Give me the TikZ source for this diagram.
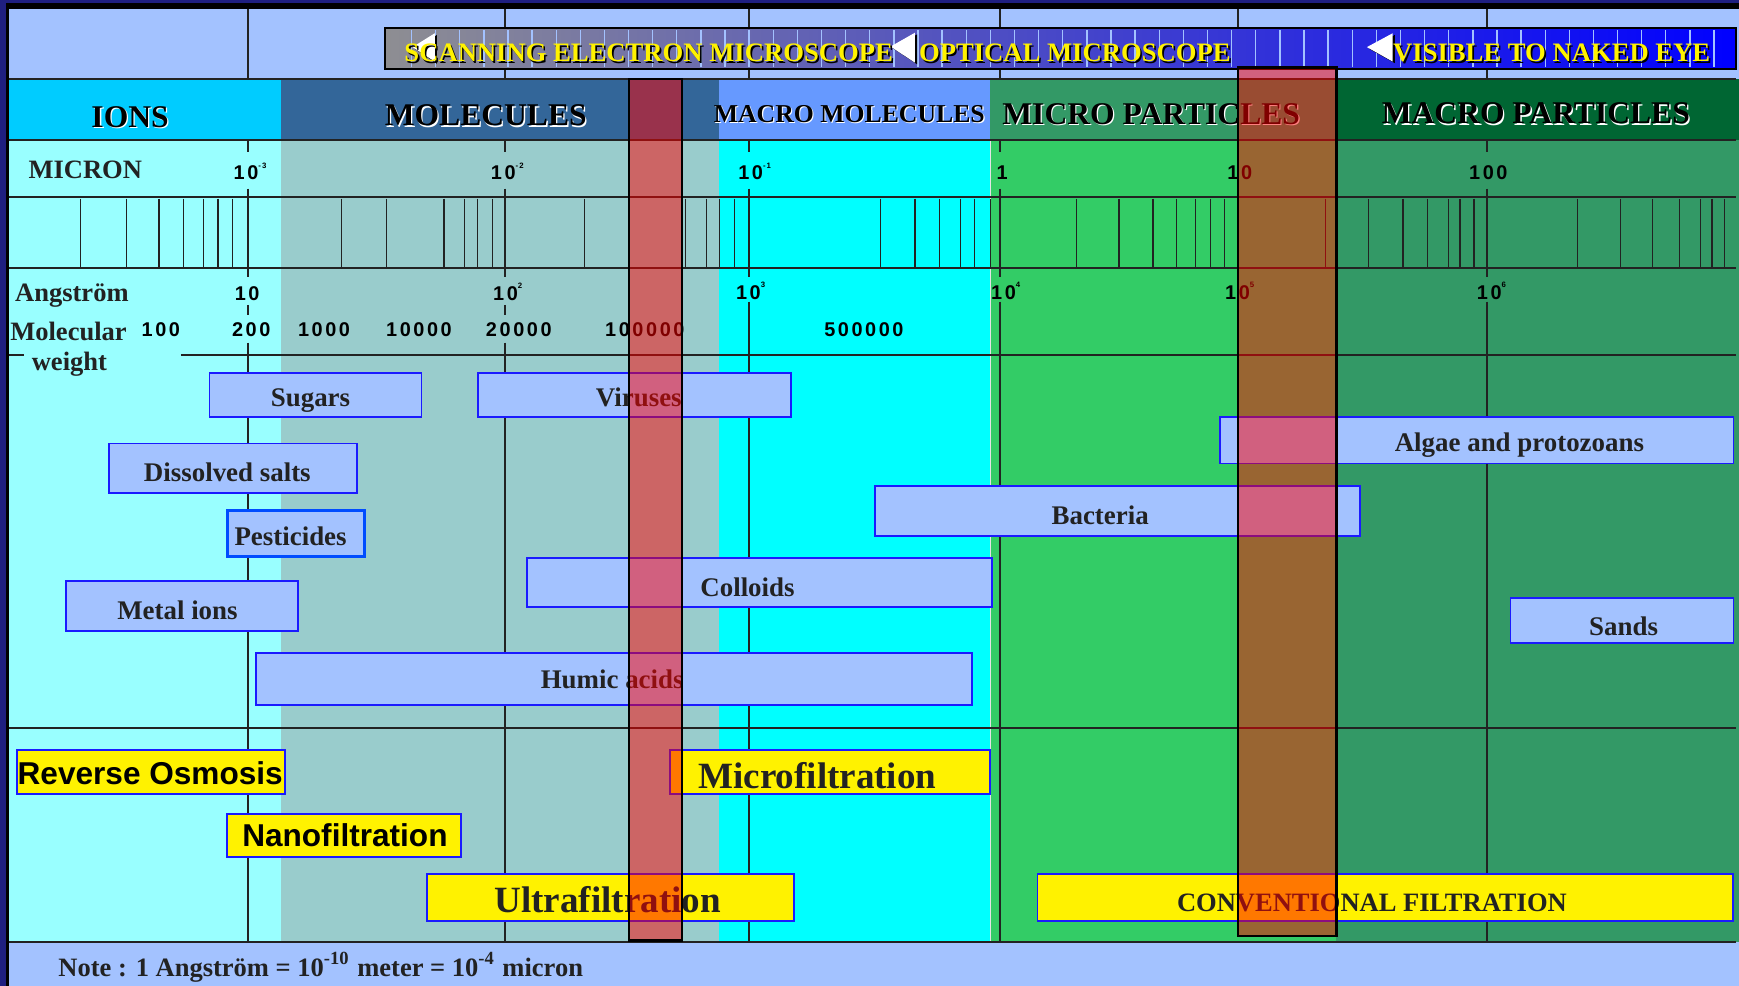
\documentclass[tikz,border=0pt]{standalone}
\usepackage{fontspec}
\setmainfont{Liberation Serif}
\setsansfont{Liberation Sans}
\newfontfamily\numfont[LetterSpace=13.0]{Liberation Sans}
\usepackage{tikz}

\definecolor{framenavy}{HTML}{1F1F80}
\definecolor{paleblue}{HTML}{A3C2FF}
\definecolor{ionhead}{HTML}{00CCFF}
\definecolor{molhead}{HTML}{336699}
\definecolor{macromolhead}{HTML}{6699FF}
\definecolor{microhead}{HTML}{339966}
\definecolor{macrohead}{HTML}{006633}
\definecolor{ioncol}{HTML}{99FFFF}
\definecolor{molcol}{HTML}{99CCCC}
\definecolor{macromolcol}{HTML}{00FFFF}
\definecolor{microcol}{HTML}{33CC66}
\definecolor{macrocol}{HTML}{339966}
\definecolor{edgeblue}{HTML}{1A1AFF}
\definecolor{inkgray}{HTML}{222222}
\definecolor{barleft}{HTML}{8E8E92}
\definecolor{barright}{HTML}{0000FF}

\newcommand{\expsup}[1]{\raisebox{3pt}{\fontsize{2pt}{2.4pt}\selectfont #1}}

\begin{document}
\begin{tikzpicture}[x=0.01cm, y=-0.01cm,
  rowline/.style={draw=inkgray, line width=0.5pt},
  scaletick/.style={draw=inkgray, line width=0.35pt},
  barstripe/.style={draw=paleblue, line width=0.35pt},
  bartext/.style={anchor=base west, inner sep=0pt, text=yellow, font=\bfseries\fontsize{6.83pt}{7pt}\selectfont},
  barshadow/.style={bartext, text=black},
  headtext/.style={anchor=base, inner sep=0pt, text=black, font=\bfseries\fontsize{8.1pt}{9pt}\selectfont},
  headshadow/.style={headtext, text=white},
  sidelabel/.style={anchor=base west, inner sep=0pt, text=inkgray, font=\bfseries\fontsize{6.8pt}{7pt}\selectfont},
  numlabel/.style={anchor=base west, inner sep=0pt, text=black, font=\numfont\bfseries\fontsize{5.1pt}{6pt}\selectfont},
  itembox/.style={fill=paleblue, draw=edgeblue, line width=0.45pt},
  itemtext/.style={anchor=base, inner sep=0pt, text=inkgray, font=\bfseries\fontsize{6.9pt}{7pt}\selectfont},
  filterbox/.style={fill=yellow, draw=edgeblue, line width=0.45pt},
  sanstext/.style={anchor=base, inner sep=0pt, text=black, font=\sffamily\bfseries\fontsize{8.1pt}{9pt}\selectfont},
  serifbig/.style={anchor=base, inner sep=0pt, text=inkgray, font=\bfseries\fontsize{9.5pt}{10pt}\selectfont},
  redband/.style={fill=red, opacity=0.5}]
  \useasboundingbox (0,0) rectangle (1568,889);

  % Frame and bands
  \fill[framenavy] (0,0) rectangle (1568,889);
  \fill[black] (5,3) rectangle (1568,889);
  \fill[paleblue] (8,8) rectangle (1568,71);
  \fill[paleblue] (8,849) rectangle (1568,889);

  % Header cells
  \fill[ionhead] (8,71) rectangle (253,126);
  \fill[molhead] (253,71) rectangle (648,126);
  \fill[macromolhead] (648,71) rectangle (893,126);
  \fill[microhead] (893,71) rectangle (1205,126);
  \fill[macrohead] (1205,71) rectangle (1568,126);

  % Column backgrounds
  \fill[ioncol] (8,126) rectangle (253,849);
  \fill[molcol] (253,126) rectangle (648,849);
  \fill[macromolcol] (648,126) rectangle (893,849);
  \fill[microcol] (893,126) rectangle (1205,849);
  \fill[macrocol] (1205,126) rectangle (1568,849);
  \draw[white!80!gray, line width=0.4pt] (893,126) -- (893,849);

  % Row lines
  \foreach \ry in {71,126,178,242,656,849}
    \draw[rowline] (8,\ry) -- (1565,\ry);
  \draw[rowline] (8,320) -- (22,320);
  \draw[rowline] (163,320) -- (1565,320);

  % Decade lines
  \foreach \dx in {224,455,675,902,1116,1341} {
    \draw[rowline] (\dx,8) -- (\dx,71);
    \draw[rowline] (\dx,126) -- (\dx,137);
    \draw[rowline] (\dx,170) -- (\dx,250);
  }
  \foreach \dx in {675,902,1341}
    \draw[rowline] (\dx,272) -- (\dx,849);
  \foreach \dx in {224,455} {
    \draw[rowline] (\dx,275) -- (\dx,284);
    \draw[rowline] (\dx,309) -- (\dx,849);
  }

  % Scale ticks
  \foreach \tx in {72.5,114,143.5,165.6,183.6,196.7,209.5,308,348.5,400.3,418.6,430.7,444,
                   527,618,637,649,662,794,825,847,866,878.5,893,970.6,1009,1039.6,1061,1078,
                   1091.3,1104,1195,1234,1265,1287,1306,1316.4,1329,1422.6,1461,1490,1514.5,
                   1533,1543.5,1555}
    \draw[scaletick] (\tx,179) -- (\tx,241);

  % Microscope bar
  \shade[left color=barleft, right color=barright] (347,25) rectangle (1565,62);
  \foreach \bx in {0,...,54}
    \draw[barstripe] ({371+21.75*\bx},27) -- ({371+21.75*\bx},60);
  \draw[line width=0.6pt] (347,25) rectangle (1565,62);
  \fill[black] (374,44) -- (394,31.5) -- (394,57.5) -- cycle;
  \fill[white] (372,42.5) -- (392,30) -- (392,55.5) -- cycle;
  \fill[black] (805,43.5) -- (827,31) -- (827,58) -- cycle;
  \fill[white] (803,42) -- (825,29.5) -- (825,56.5) -- cycle;
  \fill[black] (1234.5,44) -- (1257.7,31.5) -- (1257.7,57) -- cycle;
  \fill[white] (1232.5,42.5) -- (1255.7,30) -- (1255.7,55.5) -- cycle;
  \node[barshadow] at (365.5,57) {SCANNING ELECTRON MICROSCOPE};
  \node[bartext] (sem) at (364,55.6) {SCANNING ELECTRON MICROSCOPE};
  \node[barshadow] at (829.5,57) {OPTICAL MICROSCOPE};
  \node[bartext] (optical) at (828,55.6) {OPTICAL MICROSCOPE};
  \node[barshadow] at (1257,57) {VISIBLE TO NAKED EYE};
  \node[bartext] (naked) at (1255.5,55.6) {VISIBLE TO NAKED EYE};

  % Header texts
  \node[headshadow] at (118.5,116.2) {IONS};
  \node[headtext] (ions) at (117.3,115) {IONS};
  \node[headshadow] at (439.2,114.8) {MOLECULES};
  \node[headtext] (molecules) at (438,113.6) {MOLECULES};
  \node[headshadow, font=\bfseries\fontsize{6.6pt}{7pt}\selectfont] at (766.8,111.6) {MACRO MOLECULES};
  \node[headtext, font=\bfseries\fontsize{6.6pt}{7pt}\selectfont] (macromol) at (765.8,110.6) {MACRO MOLECULES};
  \node[headshadow] at (1039,113.2) {MICRO PARTICLES};
  \node[headtext] (micropart) at (1038,112) {MICRO PARTICLES};
  \node[headshadow] at (1386,113) {MACRO PARTICLES};
  \node[headtext] (macropart) at (1384.8,111.8) {MACRO PARTICLES};

  % Scale labels
  \node[sidelabel] (micron) at (25,160.8) {MICRON};
  \node[sidelabel] (angstrom) at (13,272) {Angstr\"om};
  \node[sidelabel] (molecular) at (8.6,306.6) {Molecular};
  \node[sidelabel] (weight) at (28,334) {weight};

  \node[numlabel] (mu3) at (210,162.3) {10\expsup{-3}};
  \node[numlabel] (mu2) at (442,162.3) {10\expsup{-2}};
  \node[numlabel] (mu1) at (665,162.3) {10\expsup{-1}};
  \node[numlabel] (mu0) at (898,162.3) {1};
  \node[numlabel] (mu10) at (1106,162.3) {10};
  \node[numlabel] (mu100) at (1324,162.3) {100};

  \node[numlabel] (an1) at (211,271) {10};
  \node[numlabel] (an2) at (444,271) {10\expsup{2}};
  \node[numlabel] (an3) at (663,270) {10\expsup{3}};
  \node[numlabel] (an4) at (893,270) {10\expsup{4}};
  \node[numlabel] (an5) at (1104,270) {10\expsup{5}};
  \node[numlabel] (an6) at (1331,270) {10\expsup{6}};

  \node[numlabel] (mw100) at (127,303.6) {100};
  \node[numlabel] (mw200) at (208.5,303.6) {200};
  \node[numlabel] (mw1k) at (268,303.6) {1000};
  \node[numlabel] (mw10k) at (347.5,303.6) {10000};
  \node[numlabel] (mw20k) at (437.5,303.6) {20000};
  \node[numlabel] (mw100k) at (545,303.6) {100000};
  \node[numlabel] (mw500k) at (742.5,303.6) {500000};

  % Particle ranges
  \draw[itembox] (189,336) rectangle (380,376);
  \node[itemtext] (sugars) at (280,366.7) {Sugars};
  \draw[itembox] (431,336) rectangle (713,376);
  \node[itemtext] (viruses) at (576,366.7) {Viruses};
  \draw[itembox] (1100,376) rectangle (1563,418);
  \node[itemtext] (algae) at (1370,407) {Algae and protozoans};
  \draw[itembox] (98,400) rectangle (322,444.5);
  \node[itemtext] (salts) at (205,434) {Dissolved salts};
  \draw[itembox, draw=blue!70!cyan, line width=0.8pt] (205,460.5) rectangle (328.5,501.4);
  \node[itemtext] (pesticides) at (262,492) {Pesticides};
  \draw[itembox] (788.7,438) rectangle (1226.5,483);
  \node[itemtext] (bacteria) at (992,472.5) {Bacteria};
  \draw[itembox] (475,503) rectangle (894.5,547.6);
  \node[itemtext] (colloids) at (674,537.5) {Colloids};
  \draw[itembox] (59.4,523.6) rectangle (268.5,568.7);
  \node[itemtext] (metal) at (160,558.5) {Metal ions};
  \draw[itembox] (231,588.5) rectangle (876.6,636);
  \node[itemtext] (humic) at (552,620.5) {Humic acids};
  \draw[itembox] (1362,539) rectangle (1563,580);
  \node[itemtext] (sands) at (1464,572.6) {Sands};

  % Filtration processes
  \draw[filterbox] (15,676) rectangle (256.7,716);
  \node[sanstext] (ro) at (135.5,707) {Reverse Osmosis};
  \draw[filterbox] (205,734) rectangle (416,772.5);
  \node[sanstext] (nf) at (311,763) {Nanofiltration};
  \draw[filterbox] (385,788) rectangle (715.6,830.5);
  \node[serifbig] (uf) at (548,823) {Ultrafiltration};
  \draw[filterbox] (604,676) rectangle (892.4,716);
  \node[serifbig] (mf) at (737,711) {Microfiltration};
  \draw[filterbox] (935.4,788) rectangle (1562.7,830.5);
  \node[itemtext, font=\bfseries\fontsize{6.8pt}{7pt}\selectfont] (cf) at (1237,822) {CONVENTIONAL FILTRATION};

  % Cut-off bands
  \fill[redband] (567,71) rectangle (615,848);
  \draw[line width=0.6pt] (567,71) rectangle (615,848);
  \fill[redband] (1116,61) rectangle (1205,844);
  \draw[line width=0.6pt] (1116,61) rectangle (1205,844);

  % Note
  \node[sidelabel, font=\bfseries\fontsize{6.8pt}{7pt}\selectfont] (note) at (52,880.7)
    {Note : 1 Angstr\"om = 10\textsuperscript{-10} meter = 10\textsuperscript{-4} micron};
\end{tikzpicture}
\end{document}
